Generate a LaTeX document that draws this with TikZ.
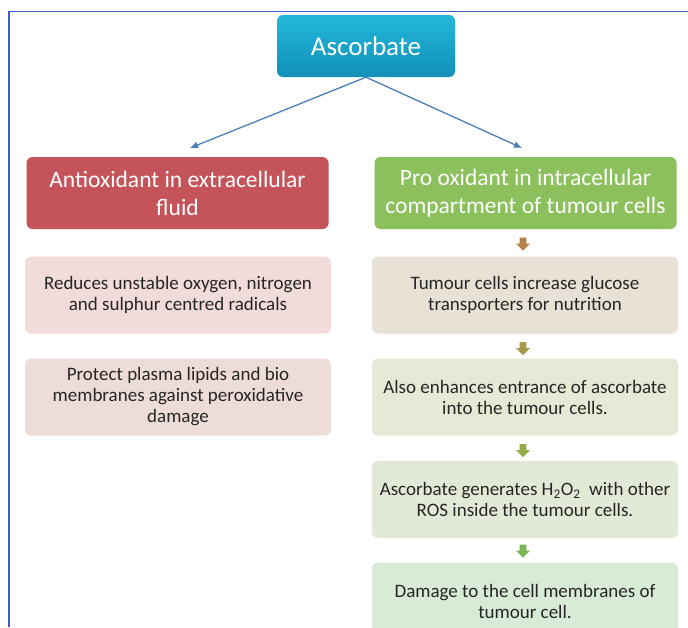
\documentclass[tikz,border=0pt]{standalone}
\usepackage{fontspec}
\setmainfont{Carlito}
\usetikzlibrary{shapes.arrows,arrows.meta}
\definecolor{frameblue}{HTML}{3B5FC0}
\definecolor{linkblue}{HTML}{4A7EBB}
\definecolor{cyantop}{HTML}{22B8DA}
\definecolor{cyanbot}{HTML}{1290B8}
\definecolor{redhead}{HTML}{C4545A}
\definecolor{greenhead}{HTML}{8BC05C}
\definecolor{pinkA}{HTML}{F1DCDB}
\definecolor{pinkB}{HTML}{EEDCD8}
\definecolor{beigeA}{HTML}{E7E1D6}
\definecolor{oliveA}{HTML}{E7E9D6}
\definecolor{oliveB}{HTML}{E3E9D7}
\definecolor{greenA}{HTML}{D8EBD7}
\definecolor{txt}{HTML}{262626}
\definecolor{arA}{HTML}{B5824A}
\definecolor{arB}{HTML}{A69A4A}
\definecolor{arC}{HTML}{95AB48}
\definecolor{arD}{HTML}{7DB552}
\tikzset{
  x=1pt,y=-1pt,
  boxbase/.style={rounded corners=6pt,inner sep=4pt,align=center,draw=none},
  headbox/.style={boxbase,minimum width=302pt,minimum height=72pt,text=white,font=\fontsize{23.5}{28}\selectfont},
  bodybox/.style={boxbase,minimum width=306pt,minimum height=77pt,text=txt,font=\fontsize{19}{21}\selectfont},
  link/.style={draw=linkblue,line width=1.3pt,-{Latex[length=8pt,width=7pt]}},
  blockarrow/.style={single arrow,draw=none,fill=#1,minimum width=14pt,single arrow head extend=2.5pt,single arrow head indent=0pt,minimum height=13pt,inner sep=2pt,shape border rotate=270}
}
\begin{document}
\begin{tikzpicture}
\useasboundingbox (0,0) rectangle (688,627);
\clip (0,0) rectangle (688,627);
\fill[white] (0,0) rectangle (688,627);
% frame
\draw[frameblue,line width=1.6pt] (9,627) -- (9,11.5) -- (688,11.5);
% top node
\node[boxbase,minimum width=178pt,minimum height=62pt,top color=cyantop,bottom color=cyanbot,text=white,font=\fontsize{27}{30}\selectfont] (asc) at (366,46) {Ascorbate};
% headers
\node[headbox,fill=redhead] (anti) at (177.5,193) {Antioxidant in extracellular\\fluid};
\node[headbox,fill=greenhead] (pro) at (525.5,193) {Pro oxidant in intracellular\\compartment of tumour cells};
\coordinate (antitip) at (190,148);
\coordinate (protip) at (522,148);
\draw[link] (asc.south) -- (antitip);
\draw[link] (asc.south) -- (protip);
% left column
\node[bodybox,fill=pinkA] (red1) at (178,295) {Reduces unstable oxygen, nitrogen\\and sulphur centred radicals};
\node[bodybox,fill=pinkB] (red2) at (178,397) {Protect plasma lipids and bio\\membranes against peroxidative\\damage};
% right column
\node[bodybox,fill=beigeA] (r1) at (525,295) {Tumour cells increase glucose\\transporters for nutrition};
\node[bodybox,fill=oliveA] (r2) at (525,397) {Also enhances entrance of ascorbate\\into the tumour cells.};
\node[bodybox,fill=oliveB] (r3) at (525,499.5) {Ascorbate generates H\textsubscript{2}O\textsubscript{2}\ \ with other\\ROS inside the tumour cells.};
\node[bodybox,fill=greenA] (r4) at (525,601) {Damage to the cell membranes of\\tumour cell.};
% small block arrows
\node[blockarrow=arA] (a1) at (523,242.5) {};
\node[blockarrow=arB] (a2) at (523,347) {};
\node[blockarrow=arC] (a3) at (523,449) {};
\node[blockarrow=arD] (a4) at (523,549.5) {};
\end{tikzpicture}
\end{document}
